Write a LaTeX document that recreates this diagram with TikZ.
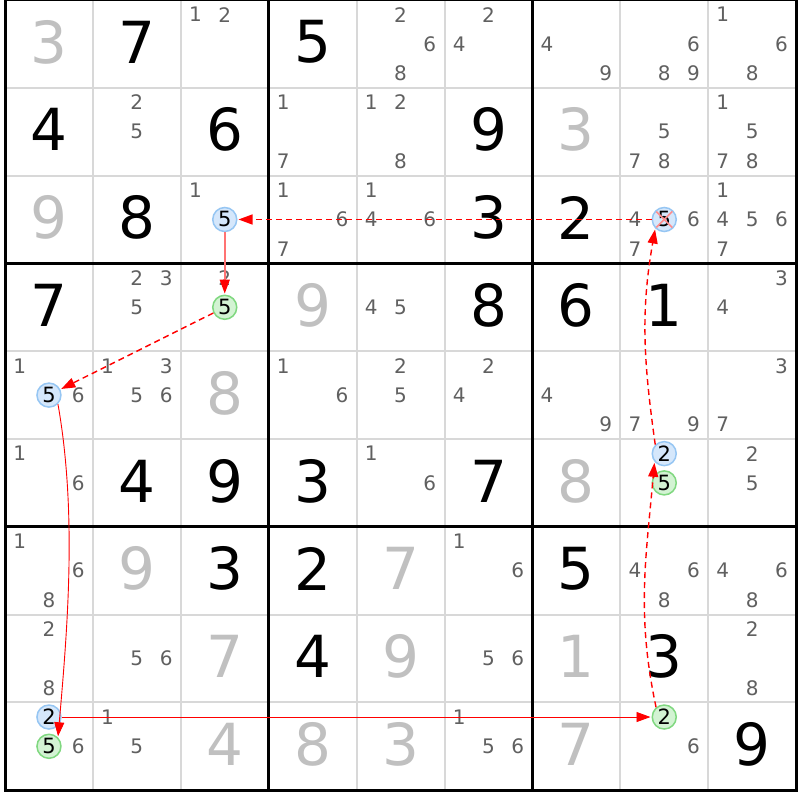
\documentclass[tikz,border=0pt]{standalone}
\usepackage{fontspec}
\setmainfont{DejaVu Sans}
\usetikzlibrary{arrows.meta}
\definecolor{candgray}{HTML}{606060}
\definecolor{givgray}{HTML}{C0C0C0}
\definecolor{gridgray}{HTML}{D8D8D8}
\definecolor{bluefill}{HTML}{D5E7FB}
\definecolor{blueline}{HTML}{96C6F3}
\definecolor{greenfill}{HTML}{D3F3D3}
\definecolor{greenline}{HTML}{80D880}
\begin{document}
\begin{tikzpicture}[x=1pt,y=1pt,
  bigblack/.style={font=\fontsize{58}{58}\selectfont, text=black, inner sep=0pt, yshift=2pt},
  biggray/.style={bigblack, text=givgray},
  cand/.style={font=\fontsize{20}{20}\selectfont, text=candgray, inner sep=0pt},
  hlblue/.style={circle, draw=blueline, fill=bluefill, line width=1.5pt, minimum size=24pt, inner sep=0pt, font=\fontsize{21}{21}\selectfont, text=black},
  hlgreen/.style={hlblue, draw=greenline, fill=greenfill},
  chaindash/.style={draw=red, line width=1.4pt, dash pattern=on 6pt off 4pt, -{Triangle[length=14pt,width=10pt]}, shorten >=1pt},
  chainsolid/.style={draw=red, line width=0.9pt, -{Triangle[length=14pt,width=10pt]}, shorten >=1pt},
  chainpale/.style={draw=red!55, line width=1.5pt, -{Triangle[length=14pt,width=10pt,color=red]}, shorten >=1pt}
]
\fill[white] (0,0) rectangle (800,800);
\useasboundingbox (0,0) rectangle (800,800);
% thin grid lines
\foreach \i in {1,2,4,5,7,8} {
  \draw[gridgray, line width=2pt] ({5+\i*87.9},9.8) -- ({5+\i*87.9},800);
  \draw[gridgray, line width=2pt] (5,{800-\i*87.8}) -- (796.1,{800-\i*87.8});
}
% thick grid lines
\foreach \i in {3,6} {
  \draw[black, line width=3pt] ({5+\i*87.9},9.8) -- ({5+\i*87.9},800);
  \draw[black, line width=3pt] (5,{800-\i*87.8}) -- (796.1,{800-\i*87.8});
}
\draw[black, line width=3pt] (5,9.8) rectangle (796.1,800);
% given digits
\foreach \r/\c/\d in {1/2/7,1/4/5,2/1/4,2/3/6,2/6/9,3/2/8,3/6/3,3/7/2,4/1/7,4/6/8,4/7/6,4/8/1,6/2/4,6/3/9,6/4/3,6/6/7,7/3/3,7/4/2,7/7/5,8/4/4,8/8/3,9/9/9}
  \node[bigblack] (g\r\c) at ({5+(\c-0.5)*87.9},{800-(\r-0.5)*87.8}) {\d};
\foreach \r/\c/\d in {1/1/3,2/7/3,3/1/9,4/4/9,5/3/8,6/7/8,7/2/9,7/5/7,8/3/7,8/5/9,8/7/1,9/3/4,9/4/8,9/5/3,9/7/7}
  \node[biggray] (g\r\c) at ({5+(\c-0.5)*87.9},{800-(\r-0.5)*87.8}) {\d};
% candidates
\foreach \r/\c/\l in {1/3/{1,2},1/5/{2,6,8},1/6/{2,4},1/7/{4,9},1/8/{6,8,9},1/9/{1,6,8},
  2/2/{2,5},2/4/{1,7},2/5/{1,2,8},2/8/{5,7,8},2/9/{1,5,7,8},
  3/3/{1},3/4/{1,6,7},3/5/{1,4,6},3/8/{4,6,7},3/9/{1,4,5,6,7},
  4/2/{2,3,5},4/3/{2},4/5/{4,5},4/9/{3,4},
  5/1/{1,6},5/2/{1,3,5,6},5/4/{1,6},5/5/{2,5},5/6/{2,4},5/7/{4,9},5/8/{7,9},5/9/{3,7},
  6/1/{1,6},6/5/{1,6},6/9/{2,5},
  7/1/{1,6,8},7/6/{1,6},7/8/{4,6,8},7/9/{4,6,8},
  8/1/{2,8},8/2/{5,6},8/6/{5,6},8/9/{2,8},
  9/1/{6},9/2/{1,5},9/6/{1,5,6},9/8/{6}} {
  \foreach \k in \l {
    \node[cand] (c\r\c\k) at ({5+(\c-1)*87.9+(2*mod(\k-1,3)+1)*14.65},{800-(\r-1)*87.8-(2*floor((\k-1)/3)+1)*14.6333}) {\k};
  }
}
% highlighted candidates
\node[hlblue]  (A) at (224.75,580.5) {5};
\node[hlgreen] (B) at (224.75,492.7) {5};
\node[hlblue]  (C) at (48.95,404.9) {5};
\node[hlblue]  (D) at (48.95,82.97) {2};
\node[hlgreen] (E) at (48.95,53.7) {5};
\node[hlgreen] (F) at (664.25,82.97) {2};
\node[hlblue]  (G) at (664.25,346.37) {2};
\node[hlgreen] (H) at (664.25,317.1) {5};
\node[hlblue]  (I) at (664.25,580.5) {5};
\draw[red!45, line width=1.5pt] (I.center) ++(-8,-8) -- ++(16,16);
\draw[red!45, line width=1.5pt] (I.center) ++(-8,8) -- ++(16,-16);
% chain
\draw[chaindash] (I) -- (A);
\draw[chainpale] (A) -- (B);
\draw[chaindash] (B) -- (C);
\draw[chainsolid] (C.-45) to[out=-80,in=85,looseness=0.85] (E.45);
\draw[chainsolid] (D) -- (F);
\draw[chaindash] (F.130) to[out=102,in=-95] (G.220);
\draw[chaindash] (G.135) to[out=98,in=-100] (I.225);
\end{tikzpicture}
\end{document}
